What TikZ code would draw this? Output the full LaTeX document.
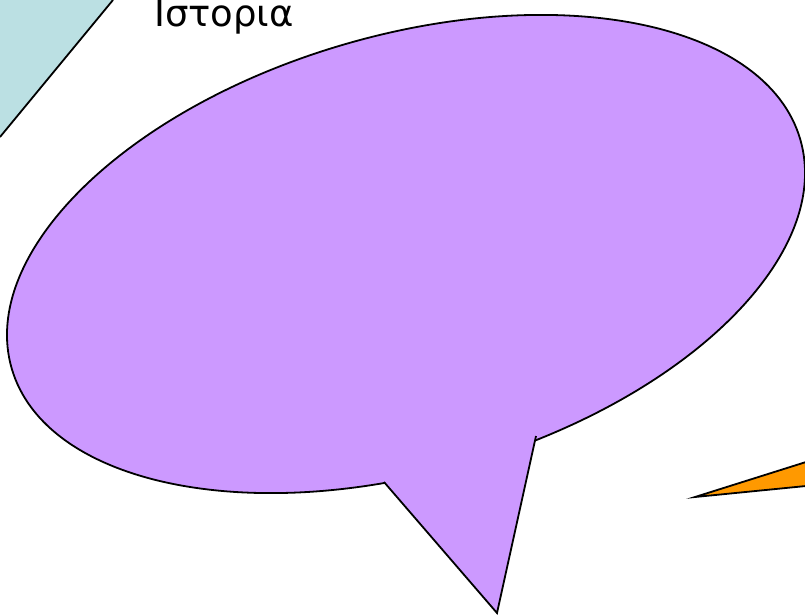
\documentclass[tikz,border=0pt]{standalone}
\usepackage{fontspec}
\setmainfont{DejaVu Sans}
\definecolor{bubble}{HTML}{CC99FF}
\definecolor{teal}{HTML}{BBE0E3}
\definecolor{orng}{HTML}{FF9900}
\begin{document}
\begin{tikzpicture}[x=1pt,y=-1pt,
  outline/.style={draw=black,line width=1.8pt,line join=miter}]
\useasboundingbox (0,0) rectangle (805,615);
% cyan shape top-left
\fill[teal] (0,0) -- (113,0) -- (0,137) -- cycle;
\draw[outline] (113,0) -- (0,137);
% title
\node[anchor=base west,inner sep=0pt,font=\fontsize{37}{37}\selectfont] (title) at (154,27) {Ιστορια};
% orange triangle
\fill[orng] (695,497) -- (806,462) -- (806,486) -- cycle;
\draw[outline] (806,462) -- (695,497) -- (806,486);
% speech bubble
\begin{scope}[shift={(406,254)},rotate=16.2]
\draw[outline,fill=bubble] (0,0) ellipse[x radius=410.6pt,y radius=218.5pt];
\end{scope}
\fill[bubble] (384,481) -- (497,613) -- (536,436) -- cycle;
\draw[outline] (384,482) -- (497,613) -- (536,436);
\end{tikzpicture}
\end{document}
